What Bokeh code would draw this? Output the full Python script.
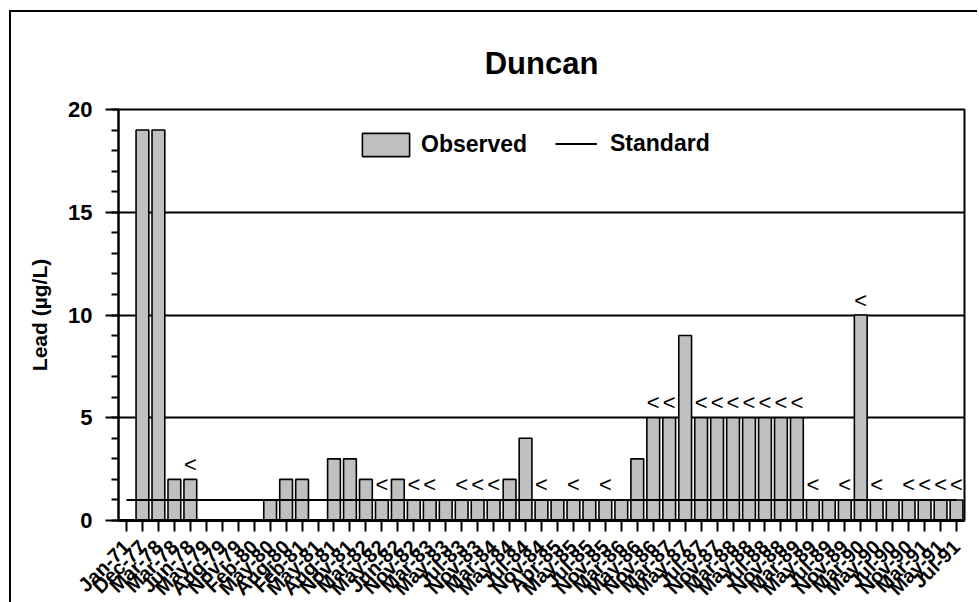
import math
from bokeh.plotting import figure
from bokeh.models import (Range1d, FixedTicker, SingleIntervalTicker, Legend, LegendItem,
                          ColumnDataSource)
from bokeh.embed import file_html
from bokeh.resources import INLINE
from bokeh.core.properties import value

# ---------------- data ----------------
dates = ["Jan-71", "Dec-77", "Mar-78", "Mar-78", "Jun-78", "May-79", "Aug-79", "Nov-79",
         "Feb-80", "May-80", "Aug-80", "Feb-81", "May-81", "Aug-81", "Nov-81", "Mar-82",
         "May-82", "Jun-82", "Nov-82", "Mar-83", "May-83", "Jul-83", "Nov-83", "Mar-84",
         "May-84", "Jul-84", "Nov-84", "Apr-85", "May-85", "Jul-85", "Nov-85", "Mar-86",
         "May-86", "Nov-86", "Mar-87", "May-87", "Jul-87", "Nov-87", "Mar-88", "May-88",
         "Jul-88", "Nov-88", "Mar-89", "May-89", "Jul-89", "Nov-89", "Mar-90", "May-90",
         "Jul-90", "Nov-90", "Mar-91", "May-91", "Jul-91"]

lead = [None, 19, 19, 2, 2, None, None, None,
        None, 1, 2, 2, None, 3, 3, 2,
        1, 2, 1, 1, 1, 1, 1, 1,
        2, 4, 1, 1, 1, 1, 1, 1,
        3, 5, 5, 9, 5, 5, 5, 5,
        5, 5, 5, 1, 1, 1, 10, 1,
        1, 1, 1, 1, 1]

qualifier = ["", "", "", "", "<", "", "", "",
             "", "", "", "", "", "", "", "",
             "<", "", "<", "<", "", "<", "<", "<",
             "", "", "<", "", "<", "", "<", "",
             "", "<", "<", "", "<", "<", "<", "<",
             "<", "<", "<", "<", "", "<", "<", "<",
             "", "<", "<", "<", "<"]

standard = 1

y_ticks = [0, 5, 10, 15, 20]

# ---------------- build ----------------
positions = list(range(1, len(dates) + 1))
bx = [positions[i] for i in range(len(dates)) if lead[i] is not None]
bt = [lead[i] for i in range(len(dates)) if lead[i] is not None]
bq = [qualifier[i] for i in range(len(dates)) if lead[i] is not None]
bar_src = ColumnDataSource(dict(x=bx, top=bt, q=bq))

FONT = "Liberation Sans"

p = figure(frame_width=846, frame_height=411,
           min_border_left=118, min_border_right=13, min_border_top=109, min_border_bottom=80,
           x_range=Range1d(0.5, len(dates) + 0.5), y_range=Range1d(0, 20),
           output_backend="svg", toolbar_location=None,
           background_fill_color="white", border_fill_alpha=0)

# outer chart border: top and left edges (right/bottom lie beyond the window)
p.styles = {
    "background": ("linear-gradient(black, black) 9px 10px / 2px 100% no-repeat, "
                   "linear-gradient(black, black) 9px 10px / 100% 2px no-repeat, white"),
}

p.outline_line_color = "black"
p.outline_line_width = 2

# title
p.title.text = "Duncan"
p.title.align = "center"
p.title.text_font = FONT
p.title.text_font_size = "31px"
p.title.text_font_style = "bold"
p.title.text_color = "black"
p.title.standoff = 58

# grid
p.xgrid.visible = False
p.ygrid.ticker = FixedTicker(ticks=y_ticks)
p.ygrid.grid_line_color = "black"
p.ygrid.grid_line_width = 2

# bars
bars = p.vbar(x="x", top="top", bottom=0, width=0.8, source=bar_src,
              fill_color="#C0C0C0", line_color="black", line_width=1.6)

# standard line
std_line = p.line(x=positions, y=[standard] * len(positions), line_color="black", line_width=2)

# qualifier marks
p.text(x="x", y="top", text="q", source=bar_src, text_align="center", text_baseline="middle",
       y_offset=-15, text_font=value(FONT), text_font_size="22px", text_color="black")

# y axis
ya = p.yaxis[0]
ya.ticker = SingleIntervalTicker(interval=5, num_minor_ticks=5)
ya.axis_label = "Lead (µg/L)"
ya.axis_label_text_font = FONT
ya.axis_label_text_font_size = "21px"
ya.axis_label_text_font_style = "bold"
ya.axis_label_text_color = "black"
ya.axis_label_standoff = 14
ya.major_label_text_font = FONT
ya.major_label_text_font_size = "22px"
ya.major_label_text_font_style = "bold"
ya.major_label_text_color = "black"
ya.major_label_standoff = 13
ya.axis_line_width = 2
ya.major_tick_in = 0
ya.major_tick_out = 13
ya.major_tick_line_width = 2
ya.minor_tick_in = 0
ya.minor_tick_out = 7
ya.minor_tick_line_width = 2

# x axis
xa = p.xaxis[0]
xa.ticker = FixedTicker(ticks=positions)
xa.major_label_overrides = {pos: lab for pos, lab in zip(positions, dates)}
xa.major_label_orientation = math.pi / 4
xa.major_label_text_font = FONT
xa.major_label_text_font_size = "20px"
xa.major_label_text_font_style = "bold"
xa.major_label_text_color = "black"
xa.major_label_standoff = 12
xa.axis_line_width = 3
xa.major_tick_in = 0
xa.major_tick_out = 11
xa.major_tick_line_width = 2
xa.minor_tick_line_color = None

# legends
common = dict(orientation="horizontal", padding=0, margin=0, glyph_height=29, label_height=35,
              border_line_color=None, background_fill_alpha=0,
              label_text_font=FONT, label_text_font_size="23px",
              label_text_font_style="bold", label_text_color="black")
leg_obs = Legend(items=[LegendItem(label="Observed", renderers=[bars])],
                 location=(238, 358), glyph_width=59, label_standoff=6, **common)
leg_std = Legend(items=[LegendItem(label="Standard", renderers=[std_line])],
                 location=(437, 359), glyph_width=42, label_standoff=13, **common)
p.add_layout(leg_obs)
p.add_layout(leg_std)

open("out.html", "w").write(file_html(p, INLINE))
